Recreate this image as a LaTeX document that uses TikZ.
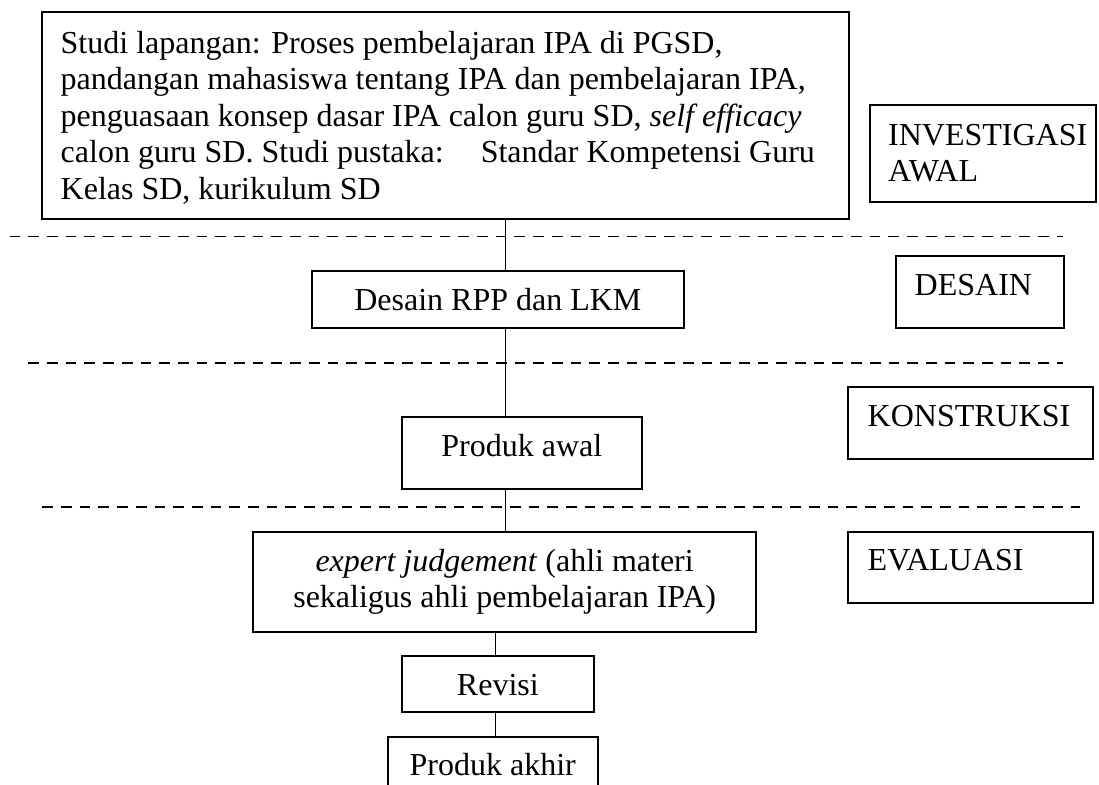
\documentclass[tikz,border=0pt]{standalone}
\usepackage{fontspec}
\setmainfont{Liberation Serif}
\begin{document}
\begin{tikzpicture}[x=1pt,y=-1pt,
  box/.style={draw=black, line width=1.7pt, inner sep=0pt},
  conn/.style={draw=black, line width=1.2pt},
  sep/.style={draw=black, line width=1.7pt, dash pattern=on 10.7pt off 8pt},
  txt/.style={inner sep=0pt, font=\fontsize{32}{36.5}\selectfont},
]
\fill[white] (0,0) rectangle (1099,784);
\useasboundingbox (0,0) rectangle (1099,784);

% separators
\coordinate (d1a) at (9.5,236.6);  \coordinate (d1b) at (1063,236.6);
\coordinate (d2a) at (28.3,363);   \coordinate (d2b) at (1063,363);
\coordinate (d3a) at (42.3,507.3); \coordinate (d3b) at (1080,507.3);
\draw[sep] (d1a) -- (d1b);
\draw[sep] (d2a) -- (d2b);
\draw[sep] (d3a) -- (d3b);

% boxes
\node[box, minimum width=807pt, minimum height=207pt] (b1) at (445.5,115.8) {};
\node[box, minimum width=226pt, minimum height=96.4pt] (inv) at (983,153.5) {};
\node[box, minimum width=372.3pt, minimum height=57.3pt] (desain) at (497.85,299.35) {};
\node[box, minimum width=168.6pt, minimum height=72.6pt] (desainlab) at (980,292) {};
\node[box, minimum width=240.3pt, minimum height=72pt] (awal) at (521.85,452.7) {};
\node[box, minimum width=245pt, minimum height=72.6pt] (konlab) at (970.8,423) {};
\node[box, minimum width=502.7pt, minimum height=100pt] (expert) at (504.65,581.7) {};
\node[box, minimum width=245.3pt, minimum height=71.6pt] (evallab) at (970.65,567.5) {};
\node[box, minimum width=192.3pt, minimum height=56.6pt] (revisi) at (497.85,684) {};
\node[box, minimum width=210pt, minimum height=56.3pt] (akhir) at (492.7,764.85) {};

% texts
\node[txt, anchor=base west] (t1) at (60.5,53.3) {\parbox[t]{800pt}{\raggedright
Studi lapangan: Proses pembelajaran IPA di PGSD,\\
pandangan mahasiswa tentang IPA dan pembelajaran IPA,\\
penguasaan konsep dasar IPA calon guru SD, \textit{self efficacy}\\
calon guru SD. Studi pustaka:\hspace{37pt}Standar Kompetensi Guru\\
Kelas SD, kurikulum SD}};
\node[txt, anchor=base west] (tinv) at (888,145) {\parbox[t]{205pt}{\raggedright INVESTIGASI\\AWAL}};
\node[txt, anchor=base west] (tdesl) at (914.5,295.7) {DESAIN};
\node[txt, anchor=base west] (tkon) at (867.5,426.7) {KONSTRUKSI};
\node[txt, anchor=base west] (teval) at (867.5,570.7) {EVALUASI};
\node[txt, anchor=base] (tdes) at (497.85,310) {Desain RPP dan LKM};
\node[txt, anchor=base] (tawal) at (521.85,456.7) {Produk awal};
\node[txt, anchor=base] (texp) at (504.65,571) {\parbox[t]{500pt}{\centering
\textit{expert judgement} (ahli materi\\sekaligus ahli pembelajaran IPA)}};
\node[txt, anchor=base] (trev) at (497.85,695) {Revisi};
\node[txt, anchor=base] (takh) at (492.7,775) {Produk akhir};

% connectors
\coordinate (spine) at (505.7,0);
\coordinate (spinetwo) at (495.7,0);
\draw[conn] (b1.south -| spine) -- (desain.north -| spine);
\draw[conn] (desain.south -| spine) -- (awal.north -| spine);
\draw[conn] (awal.south -| spine) -- (expert.north -| spine);
\draw[conn] (expert.south -| spinetwo) -- (revisi.north -| spinetwo);
\draw[conn] (revisi.south -| spinetwo) -- (akhir.north -| spinetwo);
\end{tikzpicture}
\end{document}
